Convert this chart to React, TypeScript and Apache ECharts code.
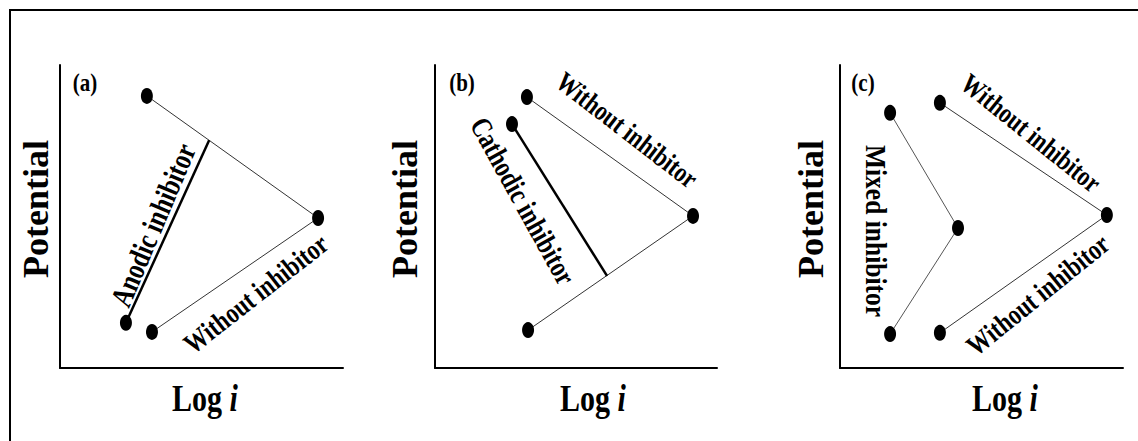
import React, { useEffect, useRef } from "react";
import * as echarts from "echarts";

// Panel (a): anodic inhibitor
const withoutA: [number, number][] = [[30.7, 89.8], [91.2, 49.5], [32.5, 11.9]];
const anodicA: [number, number][] = [[23.3, 14.9], [52.7, 75.2]];
// Panel (b): cathodic inhibitor
const withoutB: [number, number][] = [[32.6, 89.4], [91.5, 50.2], [33.0, 12.5]];
const cathodicB: [number, number][] = [[27.3, 80.5], [61.0, 30.4]];
// Panel (c): mixed inhibitor
const mixedC: [number, number][] = [[17.7, 84.2], [41.7, 46.2], [17.7, 11.2]];
const withoutC: [number, number][] = [[35.3, 87.5], [94.3, 50.5], [35.3, 11.6]];

const panelTags = ["(a)", "(b)", "(c)"];
const yTitle = "Potential";
const xTitle = "Log ";
const xTitleItalic = "i";

const FONT = "'Liberation Serif', 'Times New Roman', serif";
const deg = (d: number) => (d * Math.PI) / 180;

export default function App() {
  const ref = useRef<HTMLDivElement>(null);
  useEffect(() => {
    if (!ref.current) return;
    const chart = echarts.init(ref.current, null, { renderer: "svg" });

    const grids = [
      { left: 60, top: 65, width: 283, height: 303 },
      { left: 435, top: 65, width: 282, height: 303 },
      { left: 840, top: 65, width: 283, height: 303 },
    ];
    const axisCommon = {
      type: "value" as const,
      min: 0,
      max: 100,
      axisLine: { show: true, onZero: false, lineStyle: { color: "#000", width: 2 } },
      axisTick: { show: false },
      axisLabel: { show: false },
      splitLine: { show: false },
    };
    const xAxis = grids.map((_, i) => ({ ...axisCommon, gridIndex: i }));
    const yAxis = grids.map((_, i) => ({ ...axisCommon, gridIndex: i }));

    const dot = { symbol: "circle", symbolSize: [12, 16], itemStyle: { color: "#000" } };
    const thin = (data: [number, number][], idx: number, color = "#333", width = 1) => ({
      type: "line" as const,
      xAxisIndex: idx,
      yAxisIndex: idx,
      data,
      ...dot,
      lineStyle: { color, width },
      z: 3,
    });
    const thickWithOpenEnd = (data: [number, number][], idx: number) => ({
      type: "line" as const,
      xAxisIndex: idx,
      yAxisIndex: idx,
      data: data.map((v, k) => (k === data.length - 1 ? { value: v, symbol: "none" } : { value: v })),
      ...dot,
      lineStyle: { color: "#000", width: 2.5 },
      z: 4,
    });

    const label = (text: string, x: number, y: number, rotDeg: number, fontSize: number, scaleX = 1, scaleY = 1.25) => ({
      type: "text" as const,
      x,
      y,
      rotation: deg(rotDeg),
      scaleX,
      scaleY,
      style: {
        text,
        fontFamily: FONT,
        fontWeight: "bold",
        fontSize,
        fill: "#000",
        align: "center",
        verticalAlign: "middle",
      },
    });

    const graphic: any[] = [
      { type: "line", shape: { x1: 10, y1: 10, x2: 1138, y2: 10 }, style: { stroke: "#000", lineWidth: 2 } },
      { type: "line", shape: { x1: 10, y1: 9, x2: 10, y2: 441 }, style: { stroke: "#000", lineWidth: 2 } },
    ];
    const tagX = [85, 462, 863];
    const yTitleX = [36, 405, 811];
    const xTitleX = [205, 593, 1005];
    for (let i = 0; i < 3; i++) {
      graphic.push(label(panelTags[i], tagX[i], 82, 0, 20, 1.05, 1.3));
      graphic.push(label(yTitle, yTitleX[i], 209, 90, 34, 1.06, 1.05));
      graphic.push({
        type: "text",
        x: xTitleX[i],
        y: 398,
        scaleY: 1.25,
        style: {
          text: `{n|${xTitle}}{it|${xTitleItalic}}`,
          fontFamily: FONT,
          fontWeight: "bold",
          fontSize: 30,
          fill: "#000",
          align: "center",
          verticalAlign: "middle",
          rich: {
            n: { fontFamily: FONT, fontWeight: "bold", fontSize: 30, fill: "#000" },
            it: { fontFamily: FONT, fontWeight: "bold", fontStyle: "italic", fontSize: 30, fill: "#000" },
          },
        },
      });
    }
    graphic.push(label("Anodic inhibitor", 153, 225, 67, 24.5));
    graphic.push(label("Without inhibitor", 256, 294, 38, 23));
    graphic.push(label("Without inhibitor", 627, 130, -37.6, 22.5));
    graphic.push(label("Cathodic inhibitor", 523, 201, -61, 23.5));
    graphic.push(label("Without inhibitor", 1031, 133, -38.8, 22.5));
    graphic.push(label("Without inhibitor", 1038, 295, 39, 23));
    graphic.push(label("Mixed inhibitor", 876, 231, -90, 25.5, 1, 1.15));

    chart.setOption({
      animation: false,
      backgroundColor: "#fff",
      grid: grids,
      xAxis,
      yAxis,
      series: [
        thin(withoutA, 0),
        thickWithOpenEnd(anodicA, 0),
        thin(withoutB, 1),
        thickWithOpenEnd(cathodicB, 1),
        thin(mixedC, 2, "#555", 1),
        thin(withoutC, 2),
      ],
      graphic,
    });
    return () => chart.dispose();
  }, []);
  return <div ref={ref} style={{ position: "fixed", left: 0, top: 0, width: 1138, height: 441 }} />;
}
